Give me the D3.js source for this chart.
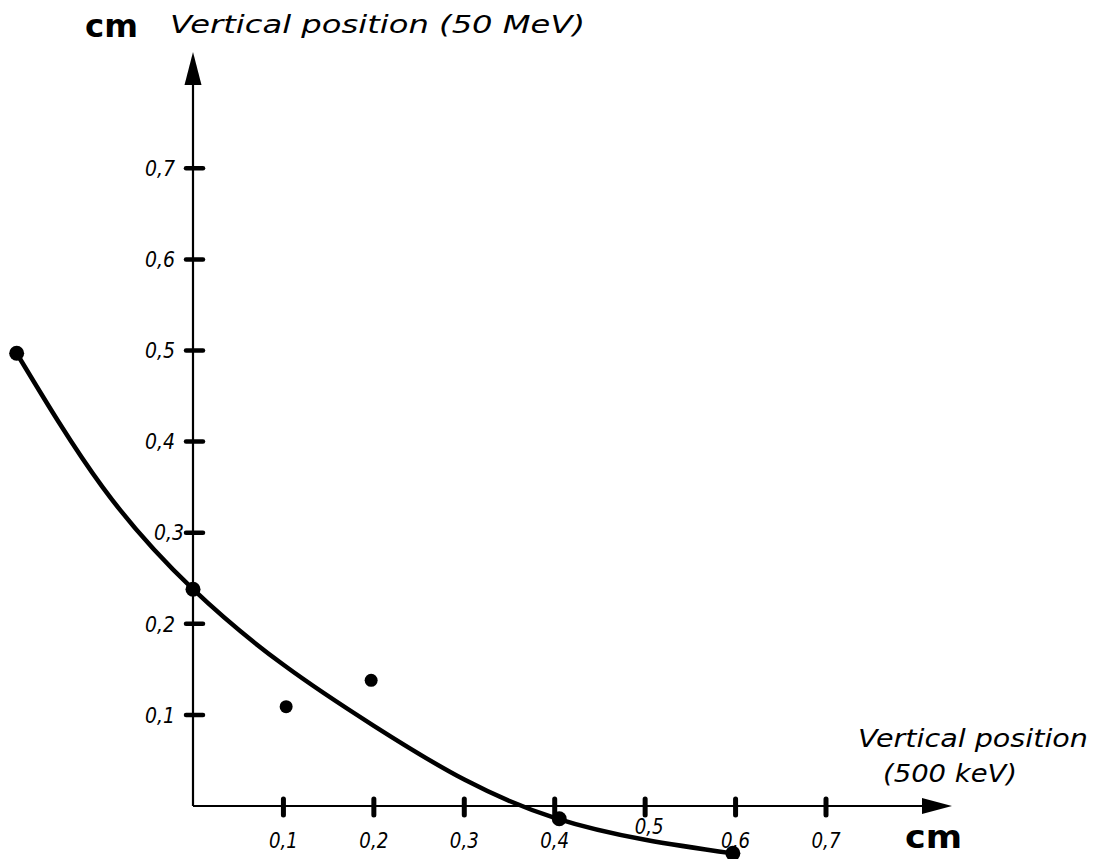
<!DOCTYPE html>
<html>
<head>
<meta charset="utf-8">
<script src="https://cdn.jsdelivr.net/npm/d3@7"></script>
<style>
  body { margin: 0; background: #fff; }
  svg { display: block; }
  text { fill: #000; font-family: "DejaVu Sans", sans-serif; }
</style>
</head>
<body>
<svg width="1096" height="859"></svg>
<script>
// tick values (cm)
var xTicks = [0.1, 0.2, 0.3, 0.4, 0.5, 0.6, 0.7];
var yTicks = [0.1, 0.2, 0.3, 0.4, 0.5, 0.6, 0.7];
var xTickLabels = ["0,1", "0,2", "0,3", "0,4", "0,5", "0,6", "0,7"];
var yTickLabels = ["0,1", "0,2", "0,3", "0,4", "0,5", "0,6", "0,7"];

// measured points: 500 keV position vs 50 MeV position
var pointX = [-0.195, 0, 0.103, 0.197, 0.405, 0.597];
var pointY = [0.497, 0.238, 0.109, 0.138, -0.014, -0.052];

// hand drawn curve
var curveX = [-0.195, -0.1, 0, 0.1, 0.2, 0.3, 0.4, 0.5, 0.597];
var curveY = [0.497, 0.35, 0.238, 0.155, 0.088, 0.029, -0.013, -0.037, -0.052];

var svg = d3.select("svg");

var x = d3.scaleLinear().domain([0, 0.7]).range([193, 826]);
var y = d3.scaleLinear().domain([0, 0.7]).range([806, 168.3]);

var x0 = x(0), y0 = y(0);

// axes lines
svg.append("line")
  .attr("x1", x0).attr("y1", y0).attr("x2", x0).attr("y2", 70)
  .attr("stroke", "#000").attr("stroke-width", 2.2);
svg.append("line")
  .attr("x1", x0).attr("y1", y0).attr("x2", 935).attr("y2", y0)
  .attr("stroke", "#000").attr("stroke-width", 2.2);

// arrow heads
svg.append("path")
  .attr("d", "M" + x0 + ",52 L" + (x0 - 8.5) + ",85 L" + (x0 + 8.5) + ",85 Z")
  .attr("fill", "#000");
svg.append("path")
  .attr("d", "M952," + y0 + " L922," + (y0 - 8) + " L922," + (y0 + 8) + " Z")
  .attr("fill", "#000");

// y ticks
svg.selectAll(".ytick").data(yTicks).enter().append("line")
  .attr("class", "ytick")
  .attr("x1", x0 - 7).attr("x2", x0 + 10)
  .attr("y1", function (d) { return y(d); })
  .attr("y2", function (d) { return y(d); })
  .attr("stroke", "#000").attr("stroke-width", 4.5)
  .attr("stroke-linecap", "round");

svg.selectAll(".ylab").data(yTicks).enter().append("text")
  .attr("class", "ylab")
  .attr("x", function (d) { return d === 0.3 ? x0 - 9 : x0 - 18; })
  .attr("y", function (d) { return y(d); })
  .attr("dy", "0.35em")
  .attr("text-anchor", "end")
  .attr("font-size", 22)
  .attr("font-style", "italic")
  .attr("textLength", 30)
  .attr("lengthAdjust", "spacingAndGlyphs")
  .text(function (d, i) { return yTickLabels[i]; });

// x ticks
svg.selectAll(".xtick").data(xTicks).enter().append("line")
  .attr("class", "xtick")
  .attr("y1", y0 - 7).attr("y2", y0 + 9)
  .attr("x1", function (d) { return x(d); })
  .attr("x2", function (d) { return x(d); })
  .attr("stroke", "#000").attr("stroke-width", 5)
  .attr("stroke-linecap", "round");

svg.selectAll(".xlab").data(xTicks).enter().append("text")
  .attr("class", "xlab")
  .attr("x", function (d) { return x(d) + (d === 0.5 ? 4 : 0); })
  .attr("y", function (d) { return d === 0.5 ? y0 + 28 : y0 + 42; })
  .attr("text-anchor", "middle")
  .attr("font-size", 22)
  .attr("font-style", "italic")
  .attr("textLength", 29)
  .attr("lengthAdjust", "spacingAndGlyphs")
  .text(function (d, i) { return xTickLabels[i]; });

// fitted curve
var curveData = curveX.map(function (v, i) { return { x: v, y: curveY[i] }; });
var line = d3.line()
  .x(function (d) { return x(d.x); })
  .y(function (d) { return y(d.y); })
  .curve(d3.curveNatural);

svg.append("path")
  .datum(curveData)
  .attr("fill", "none")
  .attr("stroke", "#000")
  .attr("stroke-width", 4.5)
  .attr("stroke-linecap", "round")
  .attr("stroke-linejoin", "round")
  .attr("d", line);

// measured points
var points = pointX.map(function (v, i) { return { x: v, y: pointY[i] }; });
svg.selectAll(".pt").data(points).enter().append("circle")
  .attr("class", "pt")
  .attr("cx", function (d) { return x(d.x); })
  .attr("cy", function (d) { return y(d.y); })
  .attr("r", function (d, i) { return (i === 2 || i === 3) ? 6.5 : 7.5; })
  .attr("fill", "#000");

// axis titles
svg.append("text")
  .attr("x", 85).attr("y", 37)
  .attr("font-size", 32).attr("font-weight", "bold")
  .attr("textLength", 53)
  .attr("lengthAdjust", "spacingAndGlyphs")
  .text("cm");
svg.append("text")
  .attr("x", 170).attr("y", 33)
  .attr("font-size", 24).attr("font-style", "italic")
  .attr("textLength", 415)
  .attr("lengthAdjust", "spacingAndGlyphs")
  .text("Vertical position (50 MeV)");

svg.append("text")
  .attr("x", 858).attr("y", 747)
  .attr("font-size", 24).attr("font-style", "italic")
  .attr("textLength", 230)
  .attr("lengthAdjust", "spacingAndGlyphs")
  .text("Vertical position");
svg.append("text")
  .attr("x", 883).attr("y", 782)
  .attr("font-size", 24).attr("font-style", "italic")
  .attr("textLength", 134)
  .attr("lengthAdjust", "spacingAndGlyphs")
  .text("(500 keV)");
svg.append("text")
  .attr("x", 905).attr("y", 848)
  .attr("font-size", 32).attr("font-weight", "bold")
  .attr("textLength", 57)
  .attr("lengthAdjust", "spacingAndGlyphs")
  .text("cm");
</script>
</body>
</html>
